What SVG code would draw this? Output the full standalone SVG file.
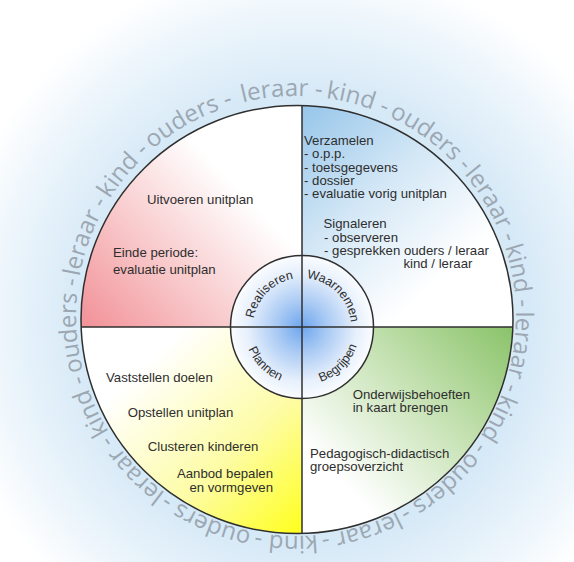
<svg xmlns="http://www.w3.org/2000/svg" width="574" height="562" viewBox="0 0 574 562">
<style>
.q{font-family:"Liberation Sans",Arial,sans-serif;font-size:13.2px;fill:#2e2e2e}
.in{font-family:"Liberation Sans",Arial,sans-serif;font-size:12.5px;fill:#2e2e2e}
.ring{font-family:"Open Sans","DejaVu Sans",sans-serif;font-size:24px;fill:#9ca7b2}
.ln{stroke:#2f2f2f;stroke-width:1.5;fill:none}
</style>
<defs>
<radialGradient id="bg" gradientUnits="userSpaceOnUse" cx="305" cy="320" r="360">
<stop offset="0" stop-color="#d3e7f6"/>
<stop offset="0.62" stop-color="#d6e9f7"/>
<stop offset="0.82" stop-color="#eaf4fb"/>
<stop offset="1" stop-color="#ffffff"/>
</radialGradient>
<linearGradient id="gRed" gradientUnits="userSpaceOnUse" x1="88" y1="325" x2="235" y2="185">
<stop offset="0" stop-color="#f2949a"/>
<stop offset="0.45" stop-color="#f8c6c8"/>
<stop offset="1" stop-color="#ffffff"/>
</linearGradient>
<linearGradient id="gBlue" gradientUnits="userSpaceOnUse" x1="304" y1="108" x2="450" y2="270">
<stop offset="0" stop-color="#98c6ea"/>
<stop offset="0.5" stop-color="#d3e7f6"/>
<stop offset="1" stop-color="#ffffff"/>
</linearGradient>
<linearGradient id="gGreen" gradientUnits="userSpaceOnUse" x1="510" y1="330" x2="350" y2="490">
<stop offset="0" stop-color="#8cc46c"/>
<stop offset="0.5" stop-color="#c8e3b6"/>
<stop offset="1" stop-color="#ffffff"/>
</linearGradient>
<linearGradient id="gYellow" gradientUnits="userSpaceOnUse" x1="300" y1="530" x2="145" y2="365">
<stop offset="0" stop-color="#ffff22"/>
<stop offset="0.45" stop-color="#fdfca6"/>
<stop offset="1" stop-color="#ffffff"/>
</linearGradient>
<radialGradient id="gCore" gradientUnits="userSpaceOnUse" cx="302" cy="327" r="72">
<stop offset="0" stop-color="#6da6ee"/>
<stop offset="0.35" stop-color="#a9caf4"/>
<stop offset="0.75" stop-color="#e6effc"/>
<stop offset="1" stop-color="#fbfdff"/>
</radialGradient>
<clipPath id="clipOuter">
<ellipse cx="297" cy="319.5" rx="216" ry="214"/>
</clipPath>
<path id="ringPath" d="M 242.78,102.53 A 220,220 0 0 1 349.22,529.47 A 220,220 0 0 1 242.78,102.53"/>
<path id="topArc" d="M 253,327 A 49,49 0 0 1 351,327"/>
<path id="botArc" d="M 244,327 A 58,58 0 0 0 360,327"/>
</defs>

<rect x="0" y="0" width="574" height="562" fill="url(#bg)"/>

<g id="ring" class="ring">
<text><textPath href="#ringPath" startOffset="0">leraar -</textPath></text>
<text><textPath href="#ringPath" startOffset="83.6">kind -</textPath></text>
<text><textPath href="#ringPath" startOffset="149.7">ouders -</textPath></text>
<text><textPath href="#ringPath" startOffset="245">leraar -</textPath></text>
<text><textPath href="#ringPath" startOffset="328.6">kind -</textPath></text>
<text><textPath href="#ringPath" startOffset="394.7">leraar -</textPath></text>
<text><textPath href="#ringPath" startOffset="478.4">kind -</textPath></text>
<text><textPath href="#ringPath" startOffset="544.5">ouders -</textPath></text>
<text><textPath href="#ringPath" startOffset="639.7">leraar -</textPath></text>
<text><textPath href="#ringPath" startOffset="723.3">kind -</textPath></text>
<text><textPath href="#ringPath" startOffset="789.4">ouders -</textPath></text>
<text><textPath href="#ringPath" startOffset="884.7">leraar -</textPath></text>
<text><textPath href="#ringPath" startOffset="968.3">kind -</textPath></text>
<text><textPath href="#ringPath" startOffset="1034.4">ouders -</textPath></text>
<text><textPath href="#ringPath" startOffset="1129.6">leraar -</textPath></text>
<text><textPath href="#ringPath" startOffset="1213.3">kind -</textPath></text>
<text><textPath href="#ringPath" startOffset="1279.4">ouders -</textPath></text>
</g>

<g id="quadrants" clip-path="url(#clipOuter)">
<rect x="0" y="0" width="302" height="327" fill="url(#gRed)"/>
<rect x="302" y="0" width="272" height="327" fill="url(#gBlue)"/>
<rect x="302" y="327" width="272" height="235" fill="url(#gGreen)"/>
<rect x="0" y="327" width="302" height="235" fill="url(#gYellow)"/>
</g>

<g id="core">
<circle cx="302" cy="327" r="71.5" fill="url(#gCore)"/>
</g>

<g id="connectors">
<line class="ln" x1="81" y1="327" x2="513" y2="327"/>
<line class="ln" x1="302" y1="105.5" x2="302" y2="533"/>
<ellipse class="ln" cx="297" cy="319.5" rx="216" ry="214"/>
<circle class="ln" cx="302" cy="327" r="71.5"/>
</g>

<g id="realiseren">
<text class="in"><textPath href="#topArc" startOffset="25%" text-anchor="middle">Realiseren</textPath></text>
<text class="q" x="147" y="203.5">Uitvoeren unitplan</text>
<text class="q" x="113" y="257">Einde periode:</text>
<text class="q" x="113" y="273.5">evaluatie unitplan</text>
</g>

<g id="waarnemen">
<text class="in"><textPath href="#topArc" startOffset="75%" text-anchor="middle">Waarnemen</textPath></text>
<text class="q" x="304" y="145">Verzamelen</text>
<text class="q" x="304" y="158.3">- o.p.p.</text>
<text class="q" x="304" y="171.6">- toetsgegevens</text>
<text class="q" x="304" y="185">- dossier</text>
<text class="q" x="304" y="198.3">- evaluatie vorig unitplan</text>
<text class="q" x="323.5" y="228.3">Signaleren</text>
<text class="q" x="324" y="241.6">- observeren</text>
<text class="q" x="324" y="255">- gesprekken ouders / leraar</text>
<text class="q" x="403.5" y="268.3">kind / leraar</text>
</g>

<g id="begrijpen">
<text class="in"><textPath href="#botArc" startOffset="75%" text-anchor="middle">Begrijpen</textPath></text>
<text class="q" x="352.7" y="398.8">Onderwijsbehoeften</text>
<text class="q" x="352.7" y="412.3">in kaart brengen</text>
<text class="q" x="310" y="457.8">Pedagogisch-didactisch</text>
<text class="q" x="310" y="471.3">groepsoverzicht</text>
</g>

<g id="plannen">
<text class="in"><textPath href="#botArc" startOffset="25%" text-anchor="middle">Plannen</textPath></text>
<text class="q" x="106" y="382">Vaststellen doelen</text>
<text class="q" x="127.7" y="416.8">Opstellen unitplan</text>
<text class="q" x="147.7" y="451">Clusteren kinderen</text>
<text class="q" x="273" y="478" text-anchor="end">Aanbod bepalen</text>
<text class="q" x="273" y="491.5" text-anchor="end">en vormgeven</text>
</g>
</svg>
